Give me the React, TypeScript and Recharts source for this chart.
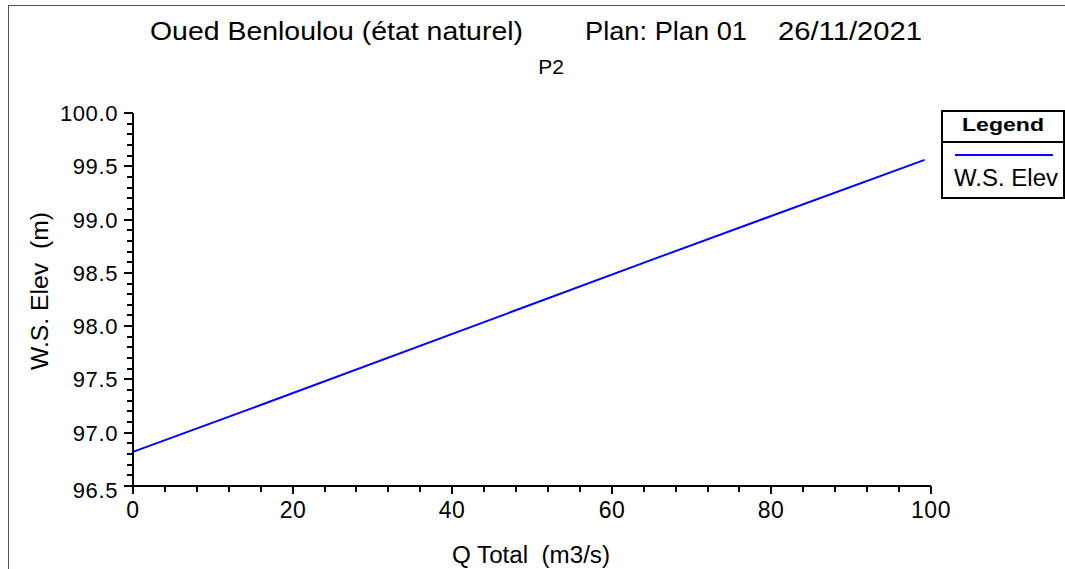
import { LineChart, Line, XAxis, YAxis, Legend } from 'recharts';

// values at P2
const qTotal = [0, 16, 66, 99.2];
const wsElev = [96.82, 97.26, 98.65, 99.56];
const seriesName = 'W.S. Elev';

const xTicks = [0, 4, 8, 12, 16, 20, 24, 28, 32, 36, 40, 44, 48, 52, 56, 60, 64, 68, 72, 76, 80, 84, 88, 92, 96, 100];
const xLabels = [0, 20, 40, 60, 80, 100];
const yTicks = [
  96.5, 96.6, 96.7, 96.8, 96.9, 97.0, 97.1, 97.2, 97.3, 97.4, 97.5, 97.6, 97.7, 97.8, 97.9, 98.0, 98.1, 98.2,
  98.3, 98.4, 98.5, 98.6, 98.7, 98.8, 98.9, 99.0, 99.1, 99.2, 99.3, 99.4, 99.5, 99.6, 99.7, 99.8, 99.9, 100.0,
];
const yLabels = [96.5, 97.0, 97.5, 98.0, 98.5, 99.0, 99.5, 100.0];

const data = qTotal.map((q, i) => ({ q, ws: wsElev[i] }));

const FONT = '"Liberation Sans", Arial, sans-serif';

function XTick(props: any) {
  const { y, payload } = props;
  const x = Math.round(props.x);
  const major = xLabels.includes(payload.value);
  return (
    <g>
      <line x1={x} x2={x} y1={y} y2={y + (major ? 8 : 6)} stroke="#000" strokeWidth={2} shapeRendering="crispEdges" />
      {major && (
        <text x={x} y={y + 32} textAnchor="middle" fontSize={23} letterSpacing={0.5} fontFamily={FONT} fill="#000">
          {payload.value}
        </text>
      )}
    </g>
  );
}

function YTick(props: any) {
  const { x, payload } = props;
  const y = Math.round(props.y);
  const major = yLabels.some((v) => Math.abs(v - payload.value) < 1e-6);
  const last = Math.abs(payload.value - 96.5) < 1e-6;
  return (
    <g>
      <line x1={x - (major ? 9 : 6)} x2={x} y1={y} y2={y} stroke="#000" strokeWidth={2} shapeRendering="crispEdges" />
      {major && (
        <text
          x={x - 15}
          y={y + (last ? 12 : 8)}
          textAnchor="end"
          fontSize={22}
          letterSpacing={0.6}
          fontFamily={FONT}
          fill="#000"
        >
          {payload.value.toFixed(1)}
        </text>
      )}
    </g>
  );
}

function LegendBox(props: any) {
  const item = props.payload?.[0];
  return (
    <svg width={124} height={90} style={{ display: 'block' }}>
      <rect x={1} y={1} width={122} height={87} fill="#fff" stroke="#000" strokeWidth={2} />
      <line x1={1} x2={123} y1={32} y2={32} stroke="#000" strokeWidth={2} />
      <text x={62} y={21} textAnchor="middle" fontSize={19} fontWeight="bold" fontFamily={FONT} textLength={82} lengthAdjust="spacingAndGlyphs">
        Legend
      </text>
      <line x1={14} x2={112} y1={45} y2={45} stroke={item?.color ?? '#0000ff'} strokeWidth={2} />
      <text x={13} y={76} fontSize={23} fontFamily={FONT} textLength={104} lengthAdjust="spacingAndGlyphs">
        {item?.value ?? seriesName}
      </text>
    </svg>
  );
}

export default function App() {
  return (
    <div style={{ position: 'relative', width: 1065, height: 569, background: '#fff', overflow: 'hidden' }}>
      <style>{'body{margin:0}'}</style>
      <LineChart width={1065} height={569} data={data} margin={{ top: 113, right: 134, bottom: 0, left: 0 }}>
        <XAxis
          dataKey="q"
          type="number"
          domain={[0, 100]}
          ticks={xTicks}
          interval={0}
          height={83}
          tickSize={0}
          tickMargin={0}
          tickLine={false}
          tick={XTick}
          axisLine={{ stroke: '#000', strokeWidth: 2 }}
        />
        <YAxis
          type="number"
          domain={[96.5, 100]}
          ticks={yTicks}
          interval={0}
          width={133}
          tickSize={0}
          tickMargin={0}
          tickLine={false}
          tick={YTick}
          axisLine={{ stroke: '#000', strokeWidth: 2 }}
        />
        <Legend
          layout="vertical"
          align="center"
          verticalAlign="middle"
          content={LegendBox}
          wrapperStyle={{ left: 941, top: 110, width: 124, height: 90 }}
        />
        <Line
          type="linear"
          dataKey="ws"
          name={seriesName}
          stroke="#0000ff"
          strokeWidth={2}
          dot={false}
          isAnimationActive={false}
        />
      </LineChart>
      <svg
        width={1065}
        height={569}
        style={{ position: 'absolute', left: 0, top: 0, pointerEvents: 'none' }}
        fontFamily={FONT}
      >
        <line x1={8.5} x2={8.5} y1={5} y2={569} stroke="#555" strokeWidth={1} />
        <line x1={8} x2={1065} y1={5.5} y2={5.5} stroke="#555" strokeWidth={1} />
        <text x={150} y={40} fontSize={25} textLength={373} lengthAdjust="spacingAndGlyphs">
          Oued Benloulou (état naturel)
        </text>
        <text x={585} y={40} fontSize={25} textLength={162} lengthAdjust="spacingAndGlyphs">
          Plan: Plan 01
        </text>
        <text x={778} y={40} fontSize={25} textLength={144} lengthAdjust="spacingAndGlyphs">
          26/11/2021
        </text>
        <text x={551} y={74} fontSize={21} textAnchor="middle">
          P2
        </text>
        <text
          transform="translate(48,291) rotate(-90)"
          textAnchor="middle"
          fontSize={23}
          textLength={158}
          lengthAdjust="spacingAndGlyphs"
          style={{ whiteSpace: 'pre' }}
        >
          {'W.S. Elev  (m)'}
        </text>
        <text
          x={531}
          y={563}
          textAnchor="middle"
          fontSize={23}
          textLength={158}
          lengthAdjust="spacingAndGlyphs"
          style={{ whiteSpace: 'pre' }}
        >
          {'Q Total  (m3/s)'}
        </text>
      </svg>
    </div>
  );
}
